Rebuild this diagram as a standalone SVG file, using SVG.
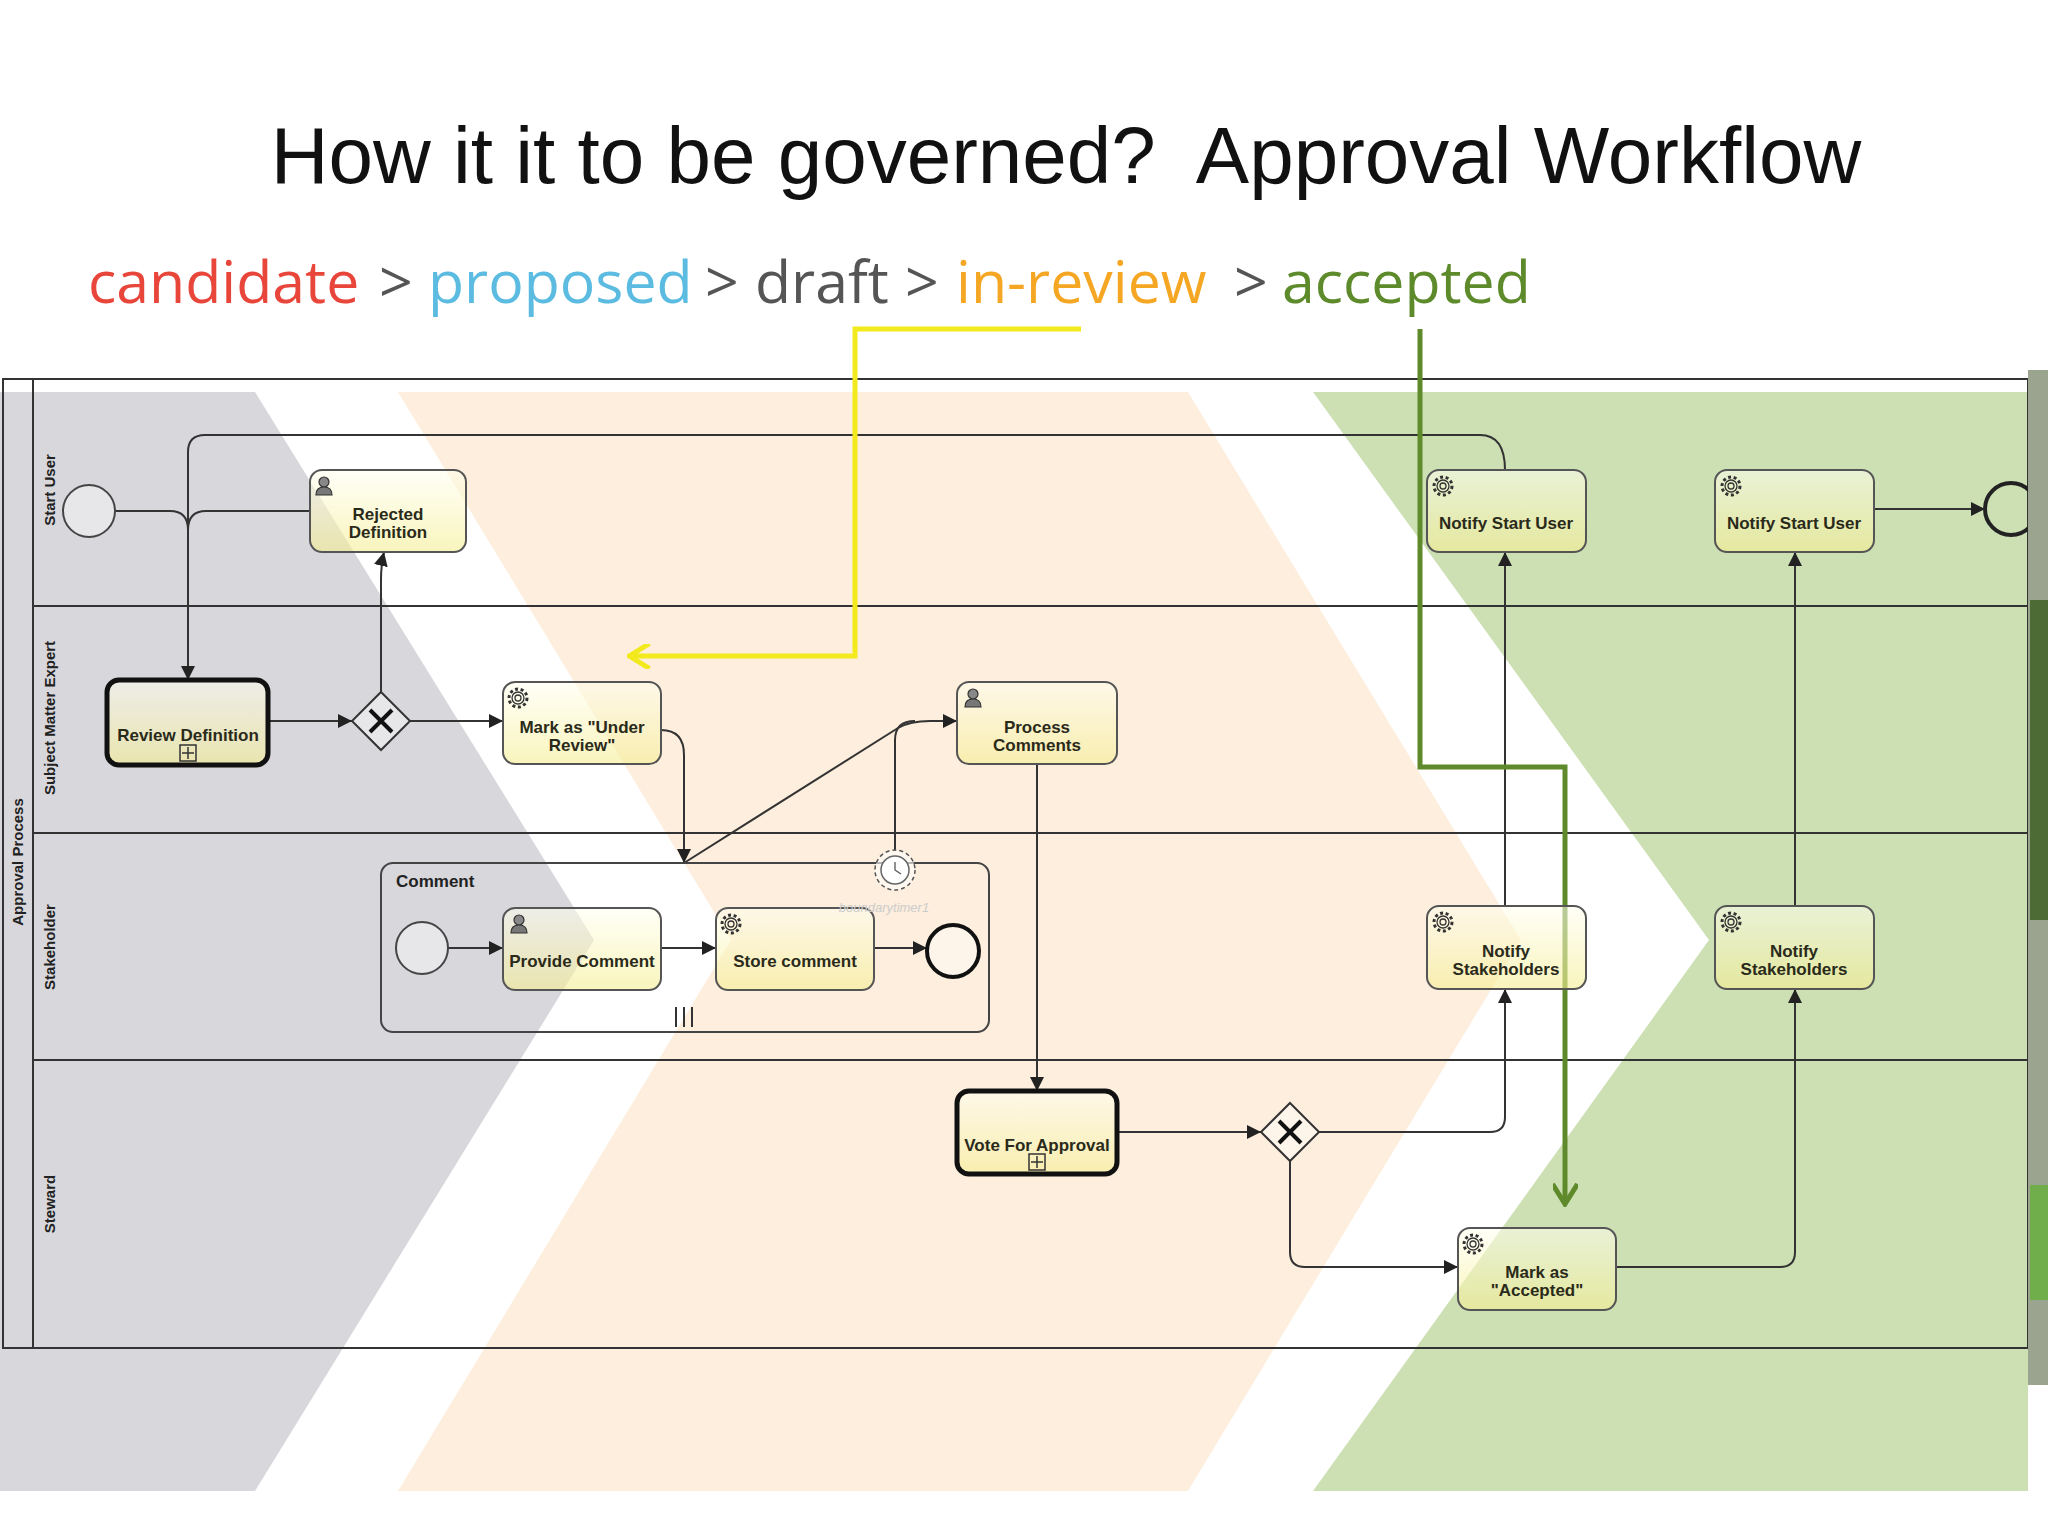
<svg xmlns="http://www.w3.org/2000/svg" width="2048" height="1536" viewBox="0 0 2048 1536">
<style>
.ln{fill:none;stroke:#333;stroke-width:2}
.task{fill:url(#tg);stroke:#555;stroke-width:2}
.thick{stroke:#111;stroke-width:5}
.t{font-family:"Liberation Sans",Arial,sans-serif;font-weight:bold;font-size:17px;fill:#2a2a1a;text-anchor:middle}
.lane{font-family:"Liberation Sans",Arial,sans-serif;font-weight:bold;font-size:15px;fill:#222;text-anchor:middle}
.gw{fill:#fff;fill-opacity:0.4;stroke:#333;stroke-width:2}
.x{stroke:#111;stroke-width:4;fill:none}
.ev{fill:#fff;fill-opacity:0.4;stroke:#444;stroke-width:2}
.st{font-family:"Open Sans","Noto Sans",sans-serif;font-size:59px}
</style>
<defs>
<linearGradient id="tg" x1="0" y1="0" x2="0" y2="1">
<stop offset="0" stop-color="#fffff0" stop-opacity="0.55"/>
<stop offset="1" stop-color="#f5ee90" stop-opacity="0.6"/>
</linearGradient>
<marker id="ah" viewBox="0 0 10 10" refX="10" refY="5" markerWidth="7" markerHeight="7" orient="auto-start-reverse"><path d="M0,0 L10,5 L0,10 z" fill="#222"/></marker>
<marker id="ay" viewBox="0 0 10 10" refX="8" refY="5" markerWidth="5" markerHeight="5" orient="auto"><path d="M1,0 L9,5 L1,10" fill="none" stroke="#f2ea1c" stroke-width="2"/></marker>
<marker id="ag" viewBox="0 0 10 10" refX="7" refY="5" markerWidth="5" markerHeight="5" orient="auto"><path d="M1,0 L9,5 L1,10" fill="none" stroke="#5e8a2c" stroke-width="2"/></marker>
<g id="gear"><circle r="9" fill="none" stroke="#333" stroke-width="3" stroke-dasharray="3 2.6"/><circle r="6" fill="none" stroke="#333" stroke-width="1.3"/><circle r="3" fill="none" stroke="#333" stroke-width="1.3"/></g>
<g id="user"><circle cx="0" cy="-4" r="5" fill="#888" stroke="#333" stroke-width="1.2"/><path d="M-8,9 Q-8,1 0,1 Q8,1 8,9 Z" fill="#777" stroke="#333" stroke-width="1.2"/></g>
<g id="plus"><rect x="-8" y="-8" width="16" height="16" fill="none" stroke="#333" stroke-width="1.5"/><path d="M0,-6 V6 M-6,0 H6" stroke="#333" stroke-width="1.5"/></g>
</defs>
<rect width="2048" height="1536" fill="#fff"/>
<g id="title">
<text x="1066" y="183" font-family="Liberation Sans,Arial,sans-serif" font-size="80" text-anchor="middle" fill="#111">How it it to be governed?&#160; Approval Workflow</text>
<text class="st" x="88" y="303" fill="#e8463a">candidate</text>
<text class="st" x="379" y="303" fill="#555">&gt;</text>
<text class="st" x="428" y="303" fill="#5bbbe0">proposed</text>
<text class="st" x="705" y="303" fill="#555">&gt;</text>
<text class="st" x="755" y="303" fill="#555">draft</text>
<text class="st" x="905" y="303" fill="#555">&gt;</text>
<text class="st" x="956" y="303" fill="#f5a623">in-review</text>
<text class="st" x="1234" y="303" fill="#555">&gt;</text>
<text class="st" x="1282" y="303" fill="#5d8a2a">accepted</text>
</g>
<g id="phases">
<polygon points="0,392 255,392 594,940 255,1491 0,1491" fill="#d8d7dc"/>
<polygon points="398,392 1188,392 1521,940 1188,1491 398,1491 731,940" fill="#fdeedd"/>
<polygon points="1313,392 2028,392 2028,1491 1313,1491 1709,940" fill="#cde0b4"/>
</g>
<g id="pool">
<rect x="3" y="379" width="2025" height="969" fill="none" stroke="#333" stroke-width="2"/>
<line x1="33" y1="379" x2="33" y2="1348" stroke="#333" stroke-width="2"/>
<line x1="33" y1="606" x2="2028" y2="606" stroke="#333" stroke-width="2"/>
<line x1="33" y1="833" x2="2028" y2="833" stroke="#333" stroke-width="2"/>
<line x1="33" y1="1060" x2="2028" y2="1060" stroke="#333" stroke-width="2"/>
<text class="lane" transform="translate(23,862) rotate(-90)">Approval Process</text>
<text class="lane" transform="translate(55,490) rotate(-90)">Start User</text>
<text class="lane" transform="translate(55,718) rotate(-90)">Subject Matter Expert</text>
<text class="lane" transform="translate(55,947) rotate(-90)">Stakeholder</text>
<text class="lane" transform="translate(55,1204) rotate(-90)">Steward</text>
</g>
<g id="connectors">
<path class="ln" d="M1505 470 Q1505 435 1480 435 L205 435 Q188 435 188 452 L188 680" marker-end="url(#ah)"/>
<path class="ln" d="M115 511 L170 511 Q188 511 188 530"/>
<path class="ln" d="M310 511 L206 511 Q188 511 188 530"/>
<path class="ln" d="M268 721 L352 721" marker-end="url(#ah)"/>
<path class="ln" d="M381 692 L381 580 Q381 565 384 552" marker-end="url(#ah)"/>
<path class="ln" d="M410 721 L503 721" marker-end="url(#ah)"/>
<path class="ln" d="M661 730 Q684 730 684 755 L684 863" marker-end="url(#ah)"/>
<path class="ln" d="M684 863 L898 728 Q910 721 930 721 L957 721" marker-end="url(#ah)"/>
<path class="ln" d="M895 851 L895 740 Q895 721 915 721"/>
<path class="ln" d="M1037 764 L1037 1091" marker-end="url(#ah)"/>
<path class="ln" d="M448 948 L503 948" marker-end="url(#ah)"/>
<path class="ln" d="M661 948 L716 948" marker-end="url(#ah)"/>
<path class="ln" d="M874 948 L927 948" marker-end="url(#ah)"/>
<path class="ln" d="M1117 1132 L1261 1132" marker-end="url(#ah)"/>
<path class="ln" d="M1319 1132 L1490 1132 Q1505 1132 1505 1117 L1505 989" marker-end="url(#ah)"/>
<path class="ln" d="M1290 1161 L1290 1252 Q1290 1267 1305 1267 L1458 1267" marker-end="url(#ah)"/>
<path class="ln" d="M1505 906 L1505 552" marker-end="url(#ah)"/>
<path class="ln" d="M1616 1267 L1780 1267 Q1795 1267 1795 1252 L1795 989" marker-end="url(#ah)"/>
<path class="ln" d="M1795 906 L1795 552" marker-end="url(#ah)"/>
<path class="ln" d="M1874 509 L1985 509" marker-end="url(#ah)"/>
<path d="M1081 329 L855 329 L855 656 L632 656" fill="none" stroke="#f2ea1c" stroke-width="5" marker-end="url(#ay)"/>
<path d="M1420 329 L1420 767 L1565 767 L1565 1199" fill="none" stroke="#5e8a2c" stroke-width="5" marker-end="url(#ag)"/>
</g>
<g id="start"><circle class="ev" cx="89" cy="511" r="26"/></g>
<g id="rejected"><rect class="task" x="310" y="470" width="156" height="82" rx="12"/><use href="#user" x="324" y="486"/><text class="t" x="388" y="520">Rejected</text><text class="t" x="388" y="538">Definition</text></g>
<g id="review"><rect class="task thick" x="107" y="680" width="161" height="85" rx="12"/><text class="t" x="188" y="741">Review Definition</text><use href="#plus" x="188" y="753"/></g>
<g id="gw1"><polygon class="gw" points="381,692 410,721 381,750 352,721"/><path class="x" d="M370 710 L392 732 M392 710 L370 732"/></g>
<g id="markreview"><rect class="task" x="503" y="682" width="158" height="82" rx="12"/><use href="#gear" x="518" y="698"/><text class="t" x="582" y="733">Mark as "Under</text><text class="t" x="582" y="751">Review"</text></g>
<g id="process"><rect class="task" x="957" y="682" width="160" height="82" rx="12"/><use href="#user" x="973" y="698"/><text class="t" x="1037" y="733">Process</text><text class="t" x="1037" y="751">Comments</text></g>
<g id="comment"><rect x="381" y="863" width="608" height="169" rx="12" fill="none" stroke="#444" stroke-width="2"/><text x="396" y="887" font-family="Liberation Sans,Arial,sans-serif" font-weight="bold" font-size="17" fill="#222">Comment</text><path d="M676 1007 V1027 M684 1007 V1027 M692 1007 V1027" stroke="#333" stroke-width="2"/></g>
<g id="cstart"><circle class="ev" cx="422" cy="948" r="26"/></g>
<g id="provide"><rect class="task" x="503" y="908" width="158" height="82" rx="12"/><use href="#user" x="519" y="924"/><text class="t" x="582" y="967">Provide Comment</text></g>
<g id="store"><rect class="task" x="716" y="908" width="158" height="82" rx="12"/><use href="#gear" x="731" y="924"/><text class="t" x="795" y="967">Store comment</text></g>
<g id="cend"><circle cx="953" cy="951" r="26" fill="#fff" fill-opacity="0.4" stroke="#111" stroke-width="4"/></g>
<g id="timer"><circle cx="895" cy="870" r="20" fill="#fff" fill-opacity="0.6" stroke="#555" stroke-width="1.5" stroke-dasharray="4 3"/><circle cx="895" cy="870" r="14" fill="#fff" stroke="#666" stroke-width="1.5"/><path d="M895 862 V870 L901 874" stroke="#555" stroke-width="1.3" fill="none"/><text x="884" y="912" font-family="Liberation Sans,Arial,sans-serif" font-style="italic" font-size="13" fill="#ccc" text-anchor="middle">boundarytimer1</text></g>
<g id="vote"><rect class="task thick" x="957" y="1091" width="160" height="83" rx="12"/><text class="t" x="1037" y="1151">Vote For Approval</text><use href="#plus" x="1037" y="1162"/></g>
<g id="gw2"><polygon class="gw" points="1290,1103 1319,1132 1290,1161 1261,1132"/><path class="x" d="M1279 1121 L1301 1143 M1301 1121 L1279 1143"/></g>
<g id="nsu1"><rect class="task" x="1427" y="470" width="159" height="82" rx="12"/><use href="#gear" x="1443" y="486"/><text class="t" x="1506" y="529">Notify Start User</text></g>
<g id="nsu2"><rect class="task" x="1715" y="470" width="159" height="82" rx="12"/><use href="#gear" x="1731" y="486"/><text class="t" x="1794" y="529">Notify Start User</text></g>
<g id="nst1"><rect class="task" x="1427" y="906" width="159" height="83" rx="12"/><use href="#gear" x="1443" y="922"/><text class="t" x="1506" y="957">Notify</text><text class="t" x="1506" y="975">Stakeholders</text></g>
<g id="nst2"><rect class="task" x="1715" y="906" width="159" height="83" rx="12"/><use href="#gear" x="1731" y="922"/><text class="t" x="1794" y="957">Notify</text><text class="t" x="1794" y="975">Stakeholders</text></g>
<g id="accepted"><rect class="task" x="1458" y="1228" width="158" height="82" rx="12"/><use href="#gear" x="1473" y="1244"/><text class="t" x="1537" y="1278">Mark as</text><text class="t" x="1537" y="1296">"Accepted"</text></g>
<g id="end"><circle cx="2011" cy="509" r="26" fill="none" stroke="#222" stroke-width="4"/></g>
<g id="edge">
<rect x="2028" y="370" width="20" height="1015" fill="#9aa48e"/>
<rect x="2030" y="600" width="18" height="320" fill="#4d6b35"/>
<rect x="2030" y="1185" width="18" height="115" fill="#6fae4a"/>
</g>
</svg>
